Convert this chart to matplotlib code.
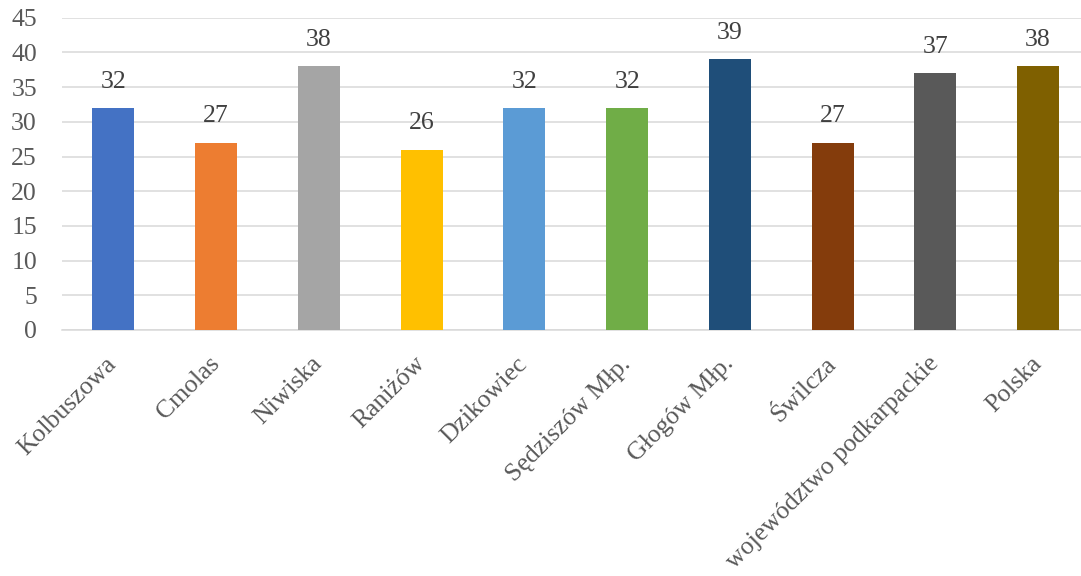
import matplotlib.pyplot as plt

categories = ["Kolbuszowa", "Cmolas", "Niwiska", "Raniżów", "Dzikowiec",
              "Sędziszów Młp.", "Głogów Młp.", "Świlcza",
              "województwo podkarpackie", "Polska"]
values = [32, 27, 38, 26, 32, 32, 39, 27, 37, 38]
colors = ["#4472C4", "#ED7D31", "#A5A5A5", "#FFC000", "#5B9BD5",
          "#70AD47", "#1F4E79", "#843C0C", "#595959", "#7F6000"]

plt.rcParams["font.family"] = ["Liberation Serif", "DejaVu Serif"]
text_color = "#595959"
fs = 18.5

W, H = 1081, 576
fig = plt.figure(figsize=(W / 100, H / 100), dpi=100)
ax = fig.add_axes([62 / W, (H - 330) / H, (1089.5 - 62) / W, 312.3 / H])

x = list(range(len(categories)))
ax.bar(x, values, width=0.41, color=colors, zorder=3)

for xi, v in zip(x, values):
    ax.annotate(str(v), (xi, v), xytext=(0, 11), textcoords="offset points",
                ha="center", va="bottom", fontsize=fs, color="#404040")

ax.set_xlim(-0.5, len(categories) - 0.5)
ax.set_ylim(0, 45)
ax.set_yticks(range(0, 46, 5))
ax.grid(axis="y", color="#D9D9D9", linewidth=1.1, zorder=0)
ax.tick_params(axis="y", length=0, pad=18, labelsize=fs, labelcolor=text_color)
ax.tick_params(axis="x", length=0, pad=22)

ax.set_xticks(x)
ax.set_xticklabels(categories, rotation=45, ha="right", va="center",
                   rotation_mode="anchor", fontsize=fs, color=text_color)

for s in ["top", "right", "left"]:
    ax.spines[s].set_visible(False)
ax.spines["bottom"].set_color("#D9D9D9")
ax.spines["bottom"].set_linewidth(1.1)

fig.savefig("out.png", dpi=100)
